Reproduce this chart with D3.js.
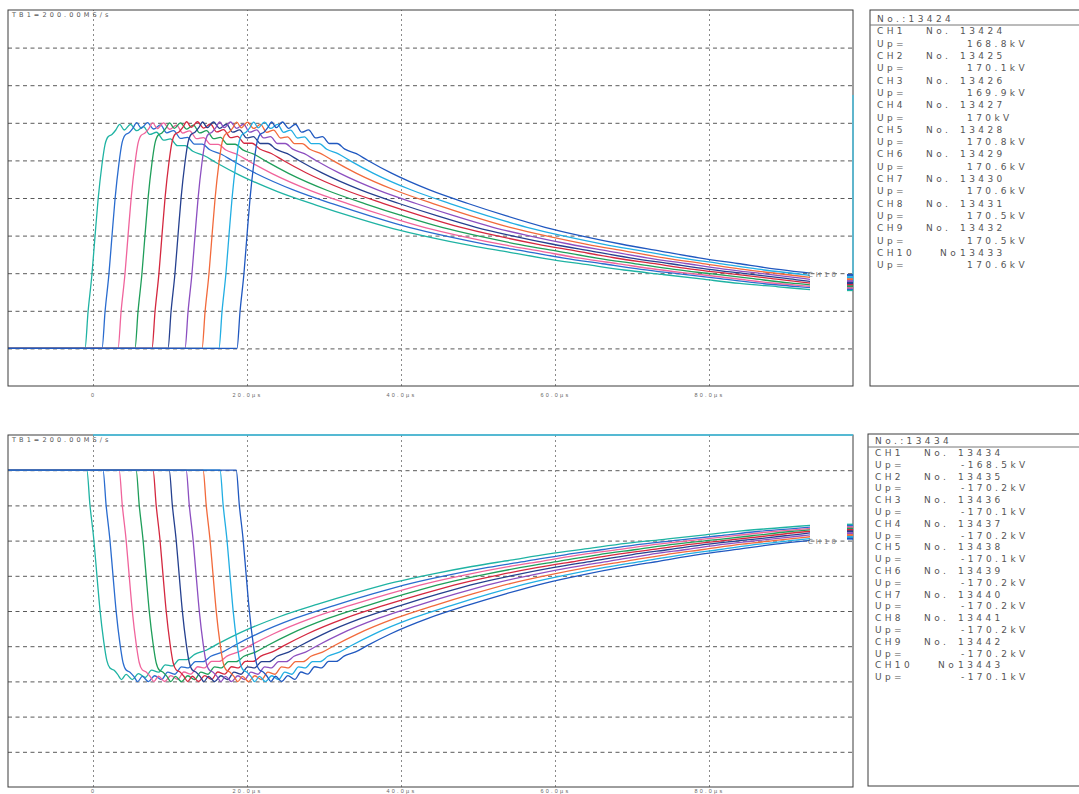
<!DOCTYPE html>
<html>
<head>
<meta charset="utf-8">
<script src="https://cdn.jsdelivr.net/npm/d3@7.9.0/dist/d3.min.js"></script>
<style>
  body { margin: 0; background: #fff; }
  svg { display: block; font-family: "DejaVu Sans", sans-serif; }
</style>
</head>
<body>
<svg id="chart" width="1079" height="794"></svg>
<script>
// ---------------------- Data ----------------------
const channels = ['CH1', 'CH2', 'CH3', 'CH4', 'CH5', 'CH6', 'CH7', 'CH8', 'CH9', 'CH10'];
const channelColors = ['#1fb3a3', '#2a6ccf', '#f0649c', '#1f9e5a', '#d4283f',
                       '#25408f', '#8c4fc0', '#f26a3c', '#22aee3', '#2058c0'];

// shot numbers and peak voltages (kV)
const topShots = [13424, 13425, 13426, 13427, 13428, 13429, 13430, 13431, 13432, 13433];
const topUp = [168.8, 170.1, 169.9, 170, 170.8, 170.6, 170.6, 170.5, 170.5, 170.6];
const bottomShots = [13434, 13435, 13436, 13437, 13438, 13439, 13440, 13441, 13442, 13443];
const bottomUp = [-168.5, -170.2, -170.1, -170.2, -170.1, -170.2, -170.2, -170.2, -170.2, -170.1];

// start of the front for each channel (µs)
const topOnsets = [-1.04, 1.17, 3.25, 5.45, 7.66, 9.74, 11.95, 14.16, 16.36, 18.7];
const bottomOnsets = [-0.8, 1.3, 3.4, 5.6, 7.8, 9.9, 12.1, 14.3, 16.5, 18.6];

const shapeT = [0, 0.4, 0.9, 1.3, 1.7, 2.2, 2.6, 3.0, 3.5, 4.0, 4.5, 5.1, 5.9, 6.7, 7.6, 8.4, 9.3,
                10.2, 11.1, 12.0, 13.0, 14.0, 15.5, 17, 20, 25, 30, 35, 40, 45, 50, 55, 60,
                65, 70, 75, 80, 85, 90, 95];
const shapeV = [0, 0.165, 0.33, 0.5, 0.665, 0.82, 0.91, 0.945, 0.955, 0.975, 1.0, 0.975, 1.0,
                0.972, 0.99, 0.955, 0.965, 0.93, 0.935, 0.905, 0.905, 0.88, 0.86, 0.83, 0.775,
                0.7, 0.64, 0.585, 0.535, 0.495, 0.46, 0.43, 0.4, 0.375, 0.35, 0.33, 0.31,
                0.29, 0.275, 0.26];

const tickValues = [0, 20, 40, 60, 80];
const tickLabels = ['0', '20.0\u00b5s', '40.0\u00b5s', '60.0\u00b5s', '80.0\u00b5s'];
const sampleLabel = 'TB1=200.00MS/s';

// ---------------------- Layout ----------------------
const svg = d3.select('#chart');
const kvPerDiv = 170 / 6;
const tStart = -11.04, tEnd = 98.7, tLast = 93.1;

function valueAt(tau) {
  if (tau <= 0) return 0;
  const i = d3.bisectLeft(shapeT, tau);
  if (i >= shapeT.length) return shapeV[shapeV.length - 1];
  const f = (tau - shapeT[i - 1]) / (shapeT[i] - shapeT[i - 1]);
  return shapeV[i - 1] + f * (shapeV[i] - shapeV[i - 1]);
}

// ---------------------- Scope panel ----------------------
function drawScope(opt) {
  const { top, bottom, divLow, divHigh, onsets, ups, id, labelGap, accent } = opt;
  const left = 8, right = 853;
  const g = svg.append('g');

  const x = d3.scaleLinear().domain([tStart, tEnd]).range([left, right]);
  const y = d3.scaleLinear().domain([divLow * kvPerDiv, divHigh * kvPerDiv]).range([bottom, top]);

  // horizontal grid
  const hDivs = d3.range(divLow + 1, divHigh).map(d => d * kvPerDiv);
  g.append('g')
    .attr('transform', `translate(${left},0)`)
    .call(d3.axisLeft(y).tickValues(hDivs).tickSize(-(right - left)).tickFormat(''))
    .call(a => a.select('.domain').remove())
    .call(a => a.selectAll('line').attr('stroke', '#5a5a5a').attr('stroke-dasharray', '4,3.5'));

  // vertical grid
  g.append('g')
    .attr('transform', `translate(0,${bottom})`)
    .call(d3.axisBottom(x).tickValues(tickValues).tickSize(-(bottom - top)).tickFormat(''))
    .call(a => a.select('.domain').remove())
    .call(a => a.selectAll('line').attr('stroke', '#8a8a8a').attr('stroke-dasharray', '2,3'));

  // tick labels
  g.append('g')
    .attr('transform', `translate(0,${bottom + labelGap})`)
    .call(d3.axisBottom(x).tickValues(tickValues).tickSize(0).tickFormat((d, i) => tickLabels[i]))
    .call(a => a.select('.domain').remove())
    .call(a => a.selectAll('text')
      .attr('fill', '#666').attr('font-size', 5.5).attr('letter-spacing', 2.2)
      .attr('y', 0).attr('dy', 0));

  // curves
  g.append('clipPath').attr('id', 'clip' + id)
    .append('rect').attr('x', left).attr('y', top).attr('width', x(tLast) - left).attr('height', bottom - top);

  const line = d3.line().x(d => x(d[0])).y(d => y(d[1])).curve(d3.curveMonotoneX);
  const series = channels.map((c, i) => {
    const pts = [[tStart, 0]].concat(shapeT.map((t, k) => [onsets[i] + t, shapeV[k] * ups[i]]));
    return { c, i, pts };
  });

  g.append('g').attr('clip-path', `url(#clip${id})`)
    .selectAll('path')
    .data(series)
    .join('path')
    .attr('d', d => line(d.pts))
    .attr('fill', 'none')
    .attr('stroke', d => channelColors[d.i])
    .attr('stroke-width', 1.3)
    .attr('stroke-linejoin', 'round');

  // end label and right-edge markers
  const ends = series.map(d => y(valueAt(tLast - onsets[d.i]) * ups[d.i]));
  g.append('text')
    .attr('x', x(tLast) - 2).attr('y', ups[0] > 0 ? d3.min(ends) + 4 : d3.max(ends) + 4)
    .attr('font-size', 7).attr('letter-spacing', 3).attr('fill', '#777')
    .text('CH10');

  // frame
  g.append('rect')
    .attr('x', left).attr('y', top).attr('width', right - left).attr('height', bottom - top)
    .attr('fill', 'none').attr('stroke', '#3c3c3c').attr('stroke-width', 1);

  // coloured part of the frame (scan tint)
  g.append('line')
    .attr('x1', accent.x1).attr('x2', accent.x2).attr('y1', accent.y1).attr('y2', accent.y2)
    .attr('stroke', '#3ec3e6').attr('stroke-width', 1.3);

  g.append('g').selectAll('line')
    .data(series)
    .join('line')
    .attr('x1', right - 6).attr('x2', right)
    .attr('y1', d => y(valueAt(tLast + 2 - onsets[d.i]) * ups[d.i]))
    .attr('y2', d => y(valueAt(tLast + 2 - onsets[d.i]) * ups[d.i]))
    .attr('stroke', d => channelColors[d.i]).attr('stroke-width', 2);

  g.append('text')
    .attr('x', left + 4).attr('y', top + 7)
    .attr('font-size', 6.5).attr('letter-spacing', 3.1).attr('fill', '#555')
    .text(sampleLabel);

  return { x, y, g };
}

// ---------------------- Info panel ----------------------
function drawInfo(opt) {
  const { left, top, bottom, first, step, shots, ups } = opt;
  const g = svg.append('g');
  g.append('rect')
    .attr('x', left).attr('y', top).attr('width', 1079 - left + 5).attr('height', bottom - top)
    .attr('fill', 'none').attr('stroke', '#3c3c3c');
  g.append('line')
    .attr('x1', left).attr('x2', 1079).attr('y1', first + 6).attr('y2', first + 6)
    .attr('stroke', '#777');

  const txt = (x, yy, s) => g.append('text')
    .attr('x', x).attr('y', yy).attr('dy', '0.35em')
    .attr('font-size', 9).attr('letter-spacing', 3.4).attr('fill', '#555')
    .text(s);

  const tx = left + 7;
  txt(tx, first, 'No.:' + shots[0]);
  const fmt = v => (Number.isInteger(v) ? v : v.toFixed(1)) + 'kV';
  channels.forEach((c, i) => {
    const yy = first + step * (1 + 2 * i);
    txt(tx, yy, c);
    if (i < 9) {
      txt(tx + 49, yy, 'No.');
      txt(tx + 83, yy, shots[i]);
    } else {
      txt(tx + 63, yy, 'No');
      txt(tx + 83, yy, shots[i]);
    }
    txt(tx, yy + step, 'Up=');
    txt(ups[i] < 0 ? tx + 86 : tx + 90, yy + step, fmt(ups[i]));
  });
}

drawScope({ top: 10, bottom: 386, divLow: -1, divHigh: 9, onsets: topOnsets, ups: topUp, id: 'a',
            labelGap: 11, accent: { x1: 853, x2: 853, y1: 95, y2: 283 } });
drawScope({ top: 435, bottom: 787, divLow: -9, divHigh: 1, onsets: bottomOnsets, ups: bottomUp, id: 'b',
            labelGap: 6, accent: { x1: 93, x2: 853, y1: 435, y2: 435 } });

drawInfo({ left: 870, top: 10, bottom: 386, first: 19, step: 12.3, shots: topShots, ups: topUp });
drawInfo({ left: 868, top: 434, bottom: 786, first: 441, step: 11.8, shots: bottomShots, ups: bottomUp });
</script>
</body>
</html>
